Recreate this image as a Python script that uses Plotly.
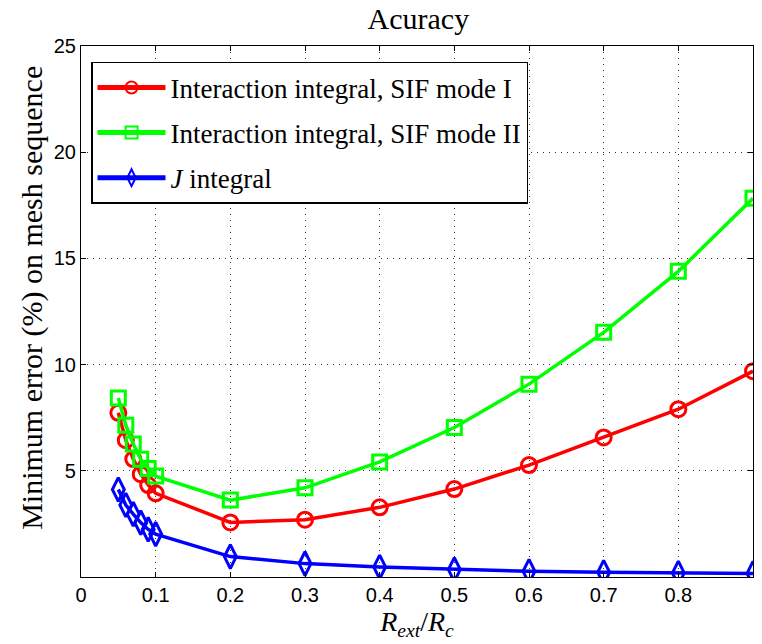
import plotly.graph_objects as go

# Ratio R_ext / R_c
ratio = [0.05, 0.06, 0.07, 0.08, 0.09, 0.1, 0.2, 0.3, 0.4, 0.5, 0.6, 0.7, 0.8, 0.9]

# Minimum error (%) on the mesh sequence
err_mode_i = [7.73, 6.44, 5.55, 4.84, 4.33, 3.94, 2.57, 2.70, 3.28, 4.14, 5.27, 6.57, 7.90, 9.69]
err_mode_ii = [8.43, 7.15, 6.26, 5.54, 5.11, 4.75, 3.62, 4.20, 5.42, 7.04, 9.08, 11.52, 14.39, 17.83]
err_j = [4.12, 3.39, 2.96, 2.56, 2.24, 2.02, 0.96, 0.63, 0.47, 0.35, 0.27, 0.22, 0.19, 0.17]

x_ticks = [0, 0.1, 0.2, 0.3, 0.4, 0.5, 0.6, 0.7, 0.8]
x_tick_text = ["0", "0.1", "0.2", "0.3", "0.4", "0.5", "0.6", "0.7", "0.8"]
y_ticks = [5, 10, 15, 20, 25]

serif = "Liberation Serif, DejaVu Serif, serif"
sans = "Liberation Sans, Arial, sans-serif"

series = [
    ("Interaction integral, SIF mode I", err_mode_i, "#ff0000", "circle-open", 15),
    ("Interaction integral, SIF mode II", err_mode_ii, "#00ff00", "square-open", 14),
    ("<i>J</i> integral", err_j, "#0000ff", "diamond-tall-open", 17),
]

fig = go.Figure()
for i, (name, vals, color, symbol, size) in enumerate(series):
    fig.add_trace(go.Scatter(
        x=ratio, y=vals, name=name, mode="lines+markers", legendgroup=f"g{i}",
        line=dict(color=color, width=3.5),
        marker=dict(symbol=symbol, size=size, color=color,
                    line=dict(color=color, width=3)),
    ))

grid = dict(showgrid=True, gridcolor="#333333", gridwidth=1, griddash="1px,5px")

fig.update_layout(
    width=762, height=644,
    margin=dict(l=81, r=9, t=46, b=67),
    paper_bgcolor="white", plot_bgcolor="white",
    font=dict(family=serif, color="black", size=22),
    title=dict(text="Acuracy", x=0.549, xanchor="center", y=0.972, yanchor="middle",
               font=dict(family=serif, size=30)),
    showlegend=True,
    legend=dict(
        x=0.0149, y=0.97, xanchor="left", yanchor="top",
        bgcolor="white", bordercolor="black", borderwidth=1.5,
        font=dict(family=serif, size=27), itemwidth=68, itemsizing="constant",
        tracegroupgap=7,
    ),
    xaxis=dict(
        range=[0, 0.9], tickvals=x_ticks, ticktext=x_tick_text,
        ticks="inside", ticklen=5, tickcolor="black",
        showline=True, linecolor="black", linewidth=1.2, mirror="ticks",
        zeroline=False,
        tickfont=dict(family=sans, size=20),
        title=dict(text="<i>R</i><sub><i>ext</i></sub>/<i>R</i><sub><i>c</i></sub>",
                   font=dict(family=serif, size=28), standoff=2),
        **grid,
    ),
    yaxis=dict(
        range=[0, 25], tickvals=y_ticks,
        ticks="inside", ticklen=5, tickcolor="black",
        showline=True, linecolor="black", linewidth=1.2, mirror="ticks",
        zeroline=False,
        tickfont=dict(family=sans, size=20),
        **grid,
    ),
)

# y-axis label, set slightly above the plot-area centre
fig.add_annotation(
    text="Minimum error (%) on mesh sequence", textangle=-90,
    xref="paper", yref="paper", x=-0.072, y=0.525,
    xanchor="center", yanchor="middle", showarrow=False,
    font=dict(family=serif, size=30, color="black"),
)

fig.write_html("out.html")
